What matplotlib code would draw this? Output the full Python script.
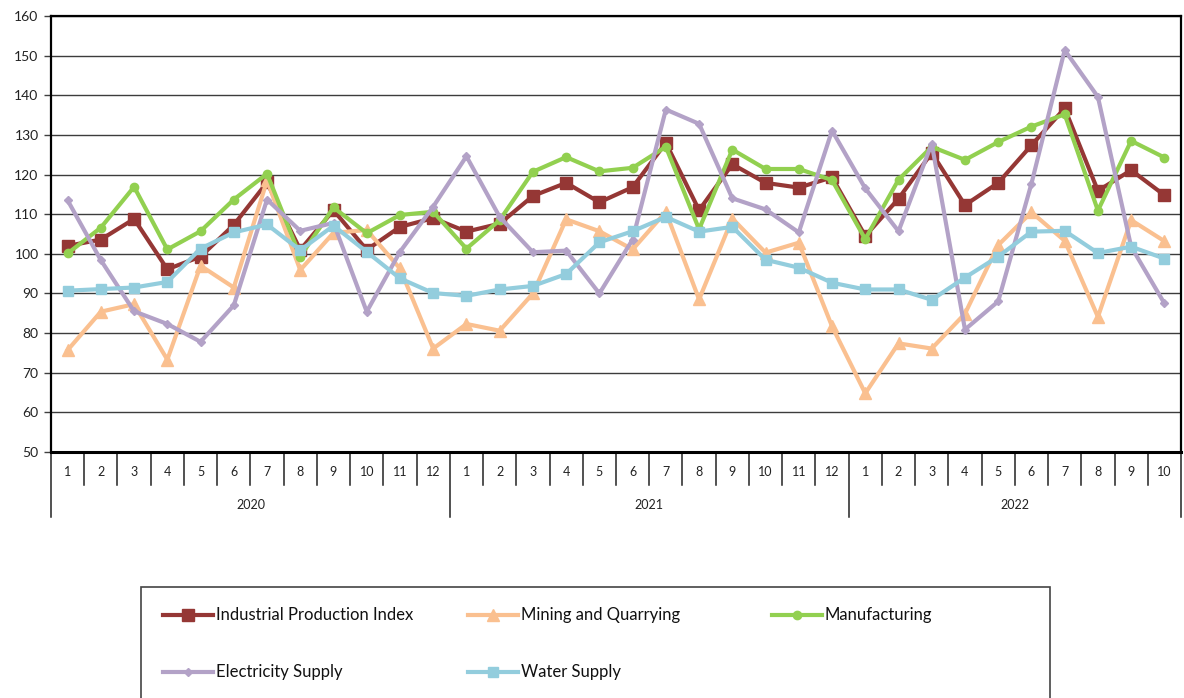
import matplotlib
matplotlib.use('Agg')
import matplotlib.pyplot as plt
from matplotlib.lines import Line2D
from matplotlib.patches import Rectangle
import matplotlib.transforms as mtransforms

plt.rcParams['font.family'] = ['Lato', 'DejaVu Sans']

years = ['2020', '2021', '2022']
months_per_year = [12, 12, 10]
month_labels = [str(m) for m in range(1, 13)] * 2 + [str(m) for m in range(1, 11)]

industrial = [102.0, 103.6, 108.8, 96.1, 99.3, 107.3, 118.0, 101.0, 111.0, 101.0, 106.8, 109.0,
              105.6, 107.6, 114.6, 117.9, 113.0, 116.8, 128.0, 111.0, 122.6, 117.9, 116.7, 119.3,
              104.5, 113.9, 125.5, 112.3, 117.9, 127.4, 136.7, 115.9, 121.1, 114.8]
mining = [75.7, 85.4, 87.3, 73.3, 97.0, 91.5, 118.5, 95.9, 105.3, 106.0, 96.3, 76.1,
          82.3, 80.6, 90.0, 108.7, 105.7, 101.1, 110.6, 88.5, 108.9, 100.3, 102.8, 81.7,
          64.8, 77.4, 76.1, 84.9, 102.2, 110.5, 103.3, 84.1, 108.5, 103.2]
manufacturing = [100.1, 106.6, 116.9, 101.1, 105.7, 113.7, 120.2, 99.3, 111.7, 105.2, 109.8, 110.6,
                 101.3, 108.5, 120.7, 124.4, 120.8, 121.7, 127.0, 106.2, 126.3, 121.4, 121.4, 118.6,
                 103.7, 118.7, 127.0, 123.7, 128.2, 132.1, 135.2, 110.9, 128.5, 124.3]
electricity = [113.5, 98.4, 85.5, 82.3, 77.8, 87.0, 113.7, 105.8, 107.8, 85.4, 100.5, 111.9,
               124.6, 109.3, 100.4, 100.8, 90.0, 103.6, 136.4, 132.8, 114.0, 111.2, 105.4, 131.1,
               116.5, 105.7, 127.8, 80.9, 88.0, 117.7, 151.4, 139.6, 101.8, 87.5]
water = [90.7, 91.1, 91.5, 92.9, 101.3, 105.4, 107.4, 100.9, 107.1, 100.5, 93.8, 90.1,
         89.4, 91.0, 91.9, 94.9, 102.9, 105.7, 109.3, 105.6, 106.8, 98.5, 96.5, 92.7,
         91.0, 91.0, 88.4, 94.0, 99.3, 105.6, 105.8, 100.2, 101.8, 98.8]

series = [
    ('Industrial Production Index', industrial, '#953735', 's', 8),
    ('Mining and Quarrying', mining, '#FAC090', '^', 8),
    ('Manufacturing', manufacturing, '#92D050', 'o', 6),
    ('Electricity Supply', electricity, '#B3A2C7', 'D', 4.5),
    ('Water Supply', water, '#93CDDD', 's', 6.5),
]

W, H = 1184, 698
fig = plt.figure(figsize=(W / 100, H / 100), dpi=100)
L, R, T, B = 51, 1181, 16, 452
ax = fig.add_axes([L / W, 1 - B / H, (R - L) / W, (B - T) / H])

n = len(month_labels)
x = list(range(1, n + 1))
handles = []
for name, vals, col, mk, ms in series:
    ln, = ax.plot(x, vals, color=col, lw=3, marker=mk, markersize=ms,
                  markerfacecolor=col, markeredgecolor=col, label=name, zorder=3)
    handles.append(ln)

ax.set_xlim(0.5, n + 0.5)
ax.set_ylim(50, 160)
ax.set_yticks(range(50, 161, 10))
ax.yaxis.grid(True, color='#3c3c3c', lw=1.0)
ax.set_axisbelow(True)
ax.set_xticks([])
ax.tick_params(axis='y', length=5, width=1, color='#404040', labelsize=10, labelcolor='#222222', pad=4)
for s in ['left', 'bottom', 'top', 'right']:
    ax.spines[s].set_color('black')
ax.spines['left'].set_linewidth(1.6)
ax.spines['bottom'].set_linewidth(2.2)
ax.spines['top'].set_linewidth(1.6)
ax.spines['right'].set_linewidth(1.6)

# category table below axis
trans = mtransforms.blended_transform_factory(ax.transData, ax.transAxes)
h = B - T
y_month_line = -(485 - B) / h
y_year_line = -(517 - B) / h
y_month_txt = -(472 - B) / h
y_year_txt = -(505 - B) / h

year_bounds = [0]
for c in months_per_year:
    year_bounds.append(year_bounds[-1] + c)

for i in range(n + 1):
    xb = i + 0.5
    y_end = y_year_line if i in year_bounds else y_month_line
    ax.add_line(Line2D([xb, xb], [0, y_end], transform=trans, color='#222222', lw=1.1, clip_on=False))
for i, lab in enumerate(month_labels):
    ax.text(i + 1, y_month_txt, lab, transform=trans, ha='center', va='center', fontsize=9, color='#222222')
for k, yr in enumerate(years):
    xc = (year_bounds[k] + year_bounds[k + 1]) / 2 + 0.5
    ax.text(xc, y_year_txt, yr, transform=trans, ha='center', va='center', fontsize=9, color='#222222')

# legend box
fig.add_artist(Rectangle((141 / W, 1 - 720 / H), (1050 - 141) / W, (720 - 587) / H,
                         transform=fig.transFigure, fill=False, edgecolor='#444444', lw=1.2))
pos = [(163, 615), (468, 615), (772, 615), (163, 672), (468, 672)]
for hnd, (px, py) in zip(handles, pos):
    fig.add_artist(Line2D([px / W, (px + 50) / W], [1 - py / H, 1 - py / H], transform=fig.transFigure,
                          color=hnd.get_color(), lw=3, marker='None'))
    fig.add_artist(Line2D([(px + 25) / W], [1 - py / H], transform=fig.transFigure,
                          color=hnd.get_color(), lw=0, marker=hnd.get_marker(),
                          markersize=hnd.get_markersize()))
    fig.text((px + 53) / W, 1 - py / H, hnd.get_label(), ha='left', va='center', fontsize=12, color='#111111')

fig.savefig('out.png', dpi=100)
